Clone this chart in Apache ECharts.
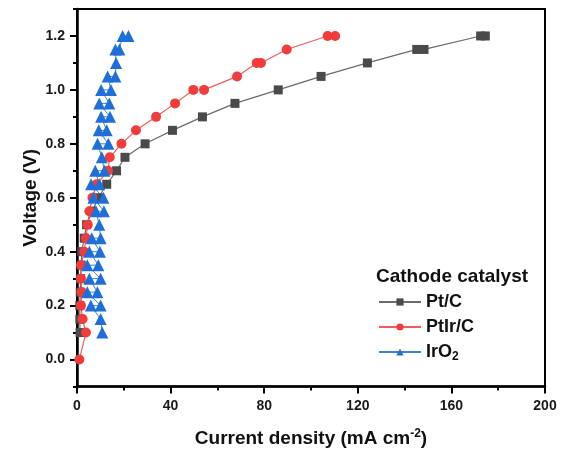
<!DOCTYPE html>
<html>
<head>
<meta charset="utf-8">
<script src="https://cdn.jsdelivr.net/npm/echarts@6/dist/echarts.min.js"></script>
<style>
  html, body { margin: 0; padding: 0; background: #fff; }
  #main { width: 566px; height: 453px; }
</style>
</head>
<body>
<div id="main"></div>
<script>
// Pt/C
var ptcVolt = [0.1, 0.15, 0.2, 0.25, 0.3, 0.35, 0.4, 0.45, 0.5, 0.55, 0.6, 0.65, 0.7, 0.75, 0.8, 0.85, 0.9, 0.95, 1.0, 1.05, 1.1, 1.15, 1.15, 1.2, 1.2];
var ptcCurr = [1.3, 1.2, 1.2, 1.4, 1.5, 1.8, 2.0, 3.1, 4.1, 6.5, 9.1, 12.7, 16.9, 20.5, 29.1, 40.8, 53.6, 67.5, 86, 104.3, 124.1, 145.2, 148.3, 172.5, 174.5];
// PtIr/C
var ptirVolt = [0, 0.1, 0.15, 0.2, 0.25, 0.3, 0.35, 0.4, 0.45, 0.5, 0.55, 0.6, 0.65, 0.7, 0.75, 0.8, 0.85, 0.9, 0.95, 1.0, 1.0, 1.05, 1.1, 1.1, 1.15, 1.2, 1.2];
var ptirCurr = [1.0, 3.8, 2.4, 1.7, 2.0, 1.7, 1.7, 3.1, 3.8, 4.6, 5.3, 6.6, 8.4, 13.2, 14.0, 19.0, 25.2, 33.8, 41.9, 49.7, 54.3, 68.4, 76.8, 78.6, 89.6, 107.1, 110.3];
// IrO2
var iroVolt = [0.1, 0.15, 0.2, 0.2, 0.25, 0.25, 0.3, 0.3, 0.35, 0.35, 0.4, 0.4, 0.45, 0.45, 0.5, 0.55, 0.55, 0.6, 0.6, 0.65, 0.65, 0.7, 0.7, 0.75, 0.8, 0.8, 0.85, 0.85, 0.9, 0.9, 0.95, 0.95, 1.0, 1.0, 1.05, 1.05, 1.1, 1.15, 1.15, 1.2, 1.2];
var iroCurr = [10.8, 10.1, 5.9, 10.1, 4.4, 8.7, 5.3, 10.1, 4.4, 9.1, 5.3, 9.8, 6.3, 10.1, 9.5, 8.1, 11.5, 7.0, 11.3, 6.0, 9.5, 7.8, 11.7, 10.6, 8.8, 13.4, 9.3, 12.7, 10.3, 14.1, 9.5, 13.8, 10.3, 14.5, 13.1, 16.4, 16.7, 16.4, 18.1, 19.5, 22.0];

var voltTicks = [0, 0.2, 0.4, 0.6, 0.8, 1.0, 1.2];

function pairs(xs, ys) {
  return xs.map(function (x, i) { return [x, ys[i]]; });
}

var font = "'Liberation Sans', Arial, sans-serif";
var myChart = echarts.init(document.getElementById("main"));

myChart.setOption({
  animation: false,
  backgroundColor: "#fff",
  textStyle: { fontFamily: font },
  title: {
    text: "Cathode catalyst",
    left: 376,
    top: 267,
    padding: 0,
    textStyle: { fontFamily: font, fontSize: 19, fontWeight: "bold", color: "#111" }
  },
  legend: {
    orient: "vertical",
    left: 378,
    top: 293,
    padding: 0,
    itemWidth: 42,
    itemHeight: 9,
    itemGap: 7,
    data: ["Pt/C", "PtIr/C", "IrO2"],
    formatter: function (name) {
      if (name === "IrO2") return "{b|IrO}{s|2}";
      return "{b|" + name + "}";
    },
    textStyle: {
      fontFamily: font,
      rich: {
        b: { fontFamily: font, fontSize: 18, fontWeight: "bold", color: "#111", lineHeight: 20 },
        s: { fontFamily: font, fontSize: 12, fontWeight: "bold", color: "#111", padding: [10, 0, 0, 0] }
      }
    }
  },
  grid: {
    left: 77, right: 21, top: 9, bottom: 66,
    show: true, borderColor: "#000", borderWidth: 2
  },
  xAxis: {
    type: "value",
    min: 0, max: 200, interval: 40,
    name: "{a|Current density (mA cm}{s|-2}{a|)}",
    nameLocation: "middle",
    nameGap: 41,
    nameTextStyle: {
      rich: {
        a: { fontFamily: font, fontSize: 19, fontWeight: "bold", color: "#111" },
        s: { fontFamily: font, fontSize: 12, fontWeight: "bold", color: "#111", padding: [0, 0, 10, 0] }
      }
    },
    axisLine: { onZero: false, lineStyle: { color: "#000", width: 2.5 } },
    axisTick: { length: 7, lineStyle: { color: "#000", width: 2 } },
    minorTick: { show: true, splitNumber: 2, length: 4, lineStyle: { color: "#000", width: 2 } },
    axisLabel: { margin: 13, fontFamily: font, fontSize: 14, fontWeight: "bold", color: "#1a1a1a" },
    splitLine: { show: false }
  },
  yAxis: [
    {
      type: "value",
      position: "left",
      min: -0.1, max: 1.3, interval: 0.1,
      name: "Voltage (V)",
      nameLocation: "middle",
      nameGap: 37,
      nameTextStyle: { fontFamily: font, fontSize: 19, fontWeight: "bold", color: "#111" },
      axisLine: { show: true, onZero: false, lineStyle: { color: "#000", width: 2.5 } },
      axisTick: { length: 4, lineStyle: { color: "#000", width: 2 } },
      axisLabel: { show: false },
      splitLine: { show: false }
    },
    {
      type: "value",
      position: "left",
      min: -0.1, max: 1.3,
      axisLine: { show: false, onZero: false },
      axisTick: { show: true, length: 7, customValues: voltTicks, lineStyle: { color: "#000", width: 2 } },
      axisLabel: {
        customValues: voltTicks,
        margin: 12,
        fontFamily: font, fontSize: 14, fontWeight: "bold", color: "#1a1a1a",
        formatter: function (v) { return v.toFixed(1); }
      },
      splitLine: { show: false }
    }
  ],
  series: [
    {
      name: "Pt/C",
      type: "line",
      data: pairs(ptcCurr, ptcVolt),
      symbol: "rect",
      symbolSize: 9,
      itemStyle: { color: "#4a4a4a" },
      lineStyle: { color: "#6b6b6b", width: 1.2 }
    },
    {
      name: "PtIr/C",
      type: "line",
      data: pairs(ptirCurr, ptirVolt),
      symbol: "circle",
      symbolSize: 10,
      itemStyle: { color: "#f23b3b" },
      lineStyle: { color: "#f25a5a", width: 1.2 }
    },
    {
      name: "IrO2",
      type: "line",
      data: pairs(iroCurr, iroVolt),
      symbol: "triangle",
      symbolSize: 12,
      itemStyle: { color: "#1f6fd8" },
      lineStyle: { color: "#3c82dc", width: 1 }
    }
  ]
});
</script>
</body>
</html>
